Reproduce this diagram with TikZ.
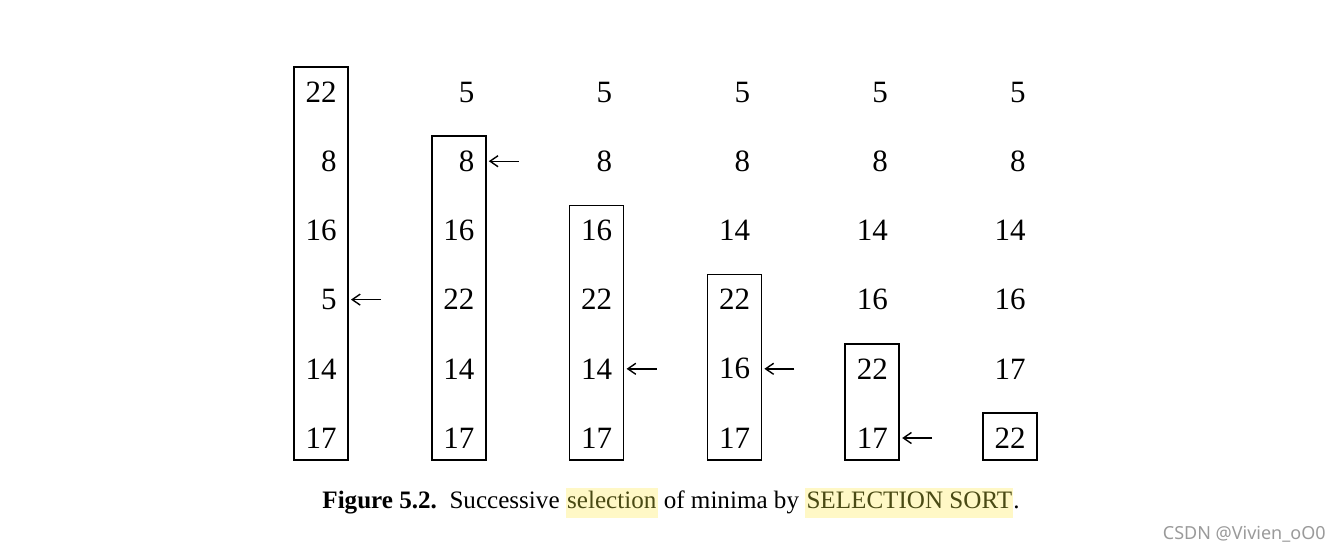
\documentclass[tikz,border=0pt]{standalone}
\usepackage{fontspec}
\setmainfont{Liberation Serif}
\newfontfamily\markfont{Noto Sans}
\usepackage{xcolor}
\usetikzlibrary{arrows.meta}
\definecolor{MarkYellow}{HTML}{FFF8C6}
\definecolor{MarkText}{HTML}{4A4A14}
\definecolor{StampGray}{HTML}{9A9A9A}
\newcommand{\marked}[1]{{\setlength{\fboxsep}{0.6pt}\colorbox{MarkYellow}{\color{MarkText}\strut #1}}}

\begin{document}
\begin{tikzpicture}[x=0.5pt,y=-0.5pt,
    num/.style={anchor=east,inner sep=0pt,font=\fontsize{15.5}{18}\selectfont},
    sortbox/.style={draw,line width=0.8pt},
    selarrow/.style={-{Straight Barb[length=4pt,width=5.5pt]},line width=0.7pt,shorten >=7pt},
    caption/.style={inner sep=0pt,font=\fontsize{12.55}{14}\selectfont}]
    \useasboundingbox (0,0) rectangle (1340,554);
    % columns: values / first boxed row / row of the minimum
    \foreach \c/\vals/\top/\sel in {1/{22,8,16,5,14,17}/1/4,
                                    2/{5,8,16,22,14,17}/2/2,
                                    3/{5,8,16,22,14,17}/3/5,
                                    4/{5,8,14,22,16,17}/4/5,
                                    5/{5,8,14,16,22,17}/5/6,
                                    6/{5,8,14,16,17,22}/6/0} {
     \pgfmathsetmacro\bx{348+137.8*(\c-1)}
     \foreach \val [count=\row] in \vals {
      \node[num] (n-\c-\row) at ({\bx-11},{92+69.2*(\row-1)}) {\val};
     }
     \draw[sortbox] ({\bx-54},{92+69.2*(\top-1)-25}) rectangle ({\bx},460);
     \ifnum\sel>0
      \coordinate (tail-\c) at ([xshift=22pt]n-\c-\sel.east);
      \draw[selarrow] (tail-\c) -- (n-\c-\sel.east);
     \fi
    }
    \node[caption] (cap) at (671,503) {\textbf{Figure 5.2.}\enspace Successive \marked{selection} of minima by \marked{SELECTION SORT}.};
    \node[anchor=east,inner sep=0pt,text=StampGray,font=\markfont\fontsize{9}{10}\selectfont] (stamp) at (1326,534) {CSDN @Vivien\_oO0};
\end{tikzpicture}
\end{document}
